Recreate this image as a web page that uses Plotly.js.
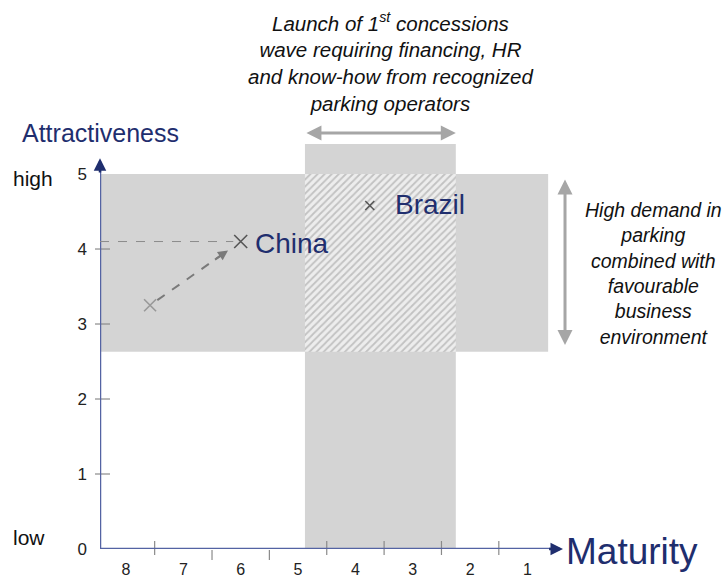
<!DOCTYPE html>
<html>
<head>
<meta charset="utf-8">
<script src="https://cdn.plot.ly/plotly-3.0.1.min.js"></script>
<style>html,body{margin:0;padding:0;background:#fff;}#chart{width:728px;height:581px;}</style>
</head>
<body>
<div id="chart"></div>
<script>
// ---- data ----
const maturityTicks = [8, 7, 6, 5, 4, 3, 2, 1];
const maturityTickText = ['8', '7', '6', '5', '4', '3', '2', '1'];
const attractTicks = [0, 1, 2, 3, 4, 5];
const attractTickText = ['0', '1', '2', '3', '4', '5'];
const countries = ['China (before)', 'China', 'Brazil'];
const maturity = [7.58, 6.0, 3.75];
const attractiveness = [3.25, 4.1, 4.58];
const labels = ['', 'China', 'Brazil'];

// zones (maturity / attractiveness units)
const concessionZone = {x0: 4.88, x1: 2.25, y0: 0, y1: 5.4};
const demandZone = {x0: 8.453, x1: 0.64, y0: 2.63, y1: 5.0};

// ---- layout constants ----
const X0 = 8.453, X1 = -0.264;
const Y0 = 0, Y1 = 5.587;
const NAVY = '#1f2e6e';
const AXIS = '#5463a3';
const GRAY = '#d4d4d4';
const AGRAY = '#a6a6a6';
const FONT = 'Liberation Sans, Arial, sans-serif';

const plotW = 500, plotH = 419;

const shapes = [];
// demand band
shapes.push({type: 'rect', xref: 'x', yref: 'y', x0: demandZone.x0, x1: demandZone.x1,
  y0: demandZone.y0, y1: demandZone.y1, fillcolor: GRAY, line: {width: 0}, layer: 'below'});
// concession band
shapes.push({type: 'rect', xref: 'x', yref: 'y', x0: concessionZone.x0, x1: concessionZone.x1,
  y0: concessionZone.y0, y1: concessionZone.y1, fillcolor: GRAY, line: {width: 0}, layer: 'below'});
// y ticks
[1, 2, 3, 4].forEach(v => shapes.push({type: 'line', xref: 'paper', yref: 'y',
  x0: -5 / plotW, x1: 10 / plotW, y0: v, y1: v, line: {color: '#8a8a8a', width: 1.2}}));
// x ticks (between labels)
const xTickMarks = [7.5, 6.5, 5.5, 4.5, 3.5, 2.5, 1.5];
const xTickBelow = [false, true, true, false, false, false, false];
xTickMarks.forEach((v, i) => {
  const lo = xTickBelow[i] ? -11 : -6, hi = xTickBelow[i] ? -1 : 8;
  shapes.push({type: 'line', xref: 'x', yref: 'paper', x0: v, x1: v,
    y0: lo / plotH, y1: hi / plotH, line: {color: '#8a8a8a', width: 1.2}});
});
// axes lines
shapes.push({type: 'line', xref: 'x', yref: 'y', x0: X0, x1: X0, y0: 0, y1: 5.1,
  line: {color: AXIS, width: 2.5}});
shapes.push({type: 'line', xref: 'x', yref: 'y', x0: X0, x1: 0.5, y0: 0, y1: 0,
  line: {color: AXIS, width: 2.5}});
// dashed guide from y axis to China
shapes.push({type: 'line', xref: 'x', yref: 'y', x0: X0, x1: maturity[1] + 0.13,
  y0: attractiveness[1], y1: attractiveness[1], line: {color: '#8c8c8c', width: 1, dash: 'dash'}});
// dashed move arrow China before -> China
const px = t => maturity[0] + t * (maturity[1] - maturity[0]);
const py = t => attractiveness[0] + t * (attractiveness[1] - attractiveness[0]);
shapes.push({type: 'line', xref: 'x', yref: 'y', x0: px(0.08), y0: py(0.08), x1: px(0.8), y1: py(0.8),
  line: {color: '#7a7a7a', width: 2, dash: 'dash'}});

const traces = [
  { // hatched overlap
    type: 'scatter', mode: 'lines', hoverinfo: 'skip', showlegend: false,
    x: [concessionZone.x0, concessionZone.x1, concessionZone.x1, concessionZone.x0, concessionZone.x0],
    y: [demandZone.y0, demandZone.y0, demandZone.y1, demandZone.y1, demandZone.y0],
    fill: 'toself', line: {width: 0}, fillcolor: '#ebebeb',
    fillpattern: {shape: '/', bgcolor: '#ededed', fgcolor: '#c2c2c2', size: 5, solidity: 0.35}
  },
  {
    type: 'scatter', mode: 'markers', showlegend: false,
    x: maturity, y: attractiveness, text: countries,
    marker: {symbol: 'x-thin', size: [12, 13, 9],
      color: ['#808080', '#222', '#222'],
      line: {width: 1.6, color: ['#808080', '#222', '#222']}}
  }
];

const annotations = [
  // axis arrowheads
  {x: X0, y: 5.21, ax: X0, ay: 5.0, xref: 'x', yref: 'y', axref: 'x', ayref: 'y', text: '',
    showarrow: true, arrowhead: 2, arrowsize: 1, arrowwidth: 2.5, arrowcolor: NAVY},
  {x: 0.381, y: 0, ax: 0.65, ay: 0, xref: 'x', yref: 'y', axref: 'x', ayref: 'y', text: '',
    showarrow: true, arrowhead: 2, arrowsize: 1, arrowwidth: 2.5, arrowcolor: NAVY},
  // move arrowhead
  {x: px(0.86), y: py(0.86), ax: px(0.7), ay: py(0.7), xref: 'x', yref: 'y', axref: 'x', ayref: 'y',
    text: '', showarrow: true, arrowhead: 2, arrowsize: 1, arrowwidth: 2, arrowcolor: '#7a7a7a'},
  // top double arrow
  {x: concessionZone.x1, y: 5.547, ax: concessionZone.x0, ay: 5.547, xref: 'x', yref: 'y', axref: 'x', ayref: 'y',
    text: '', showarrow: true, arrowhead: 2, startarrowhead: 2, arrowside: 'end+start',
    arrowsize: 1, startarrowsize: 1, arrowwidth: 3, arrowcolor: AGRAY},
  // right double arrow
  {x: 0.346, y: 2.72, ax: 0.346, ay: 4.947, xref: 'x', yref: 'y', axref: 'x', ayref: 'y',
    text: '', showarrow: true, arrowhead: 2, startarrowhead: 2, arrowside: 'end+start',
    arrowsize: 1, startarrowsize: 1, arrowwidth: 3, arrowcolor: AGRAY},
  // point labels
  {x: maturity[1], y: attractiveness[1], xref: 'x', yref: 'y', text: labels[1], showarrow: false,
    xanchor: 'left', yanchor: 'middle', xshift: 12, yshift: -2,
    font: {family: FONT, size: 28, color: NAVY}},
  {x: maturity[2], y: attractiveness[2], xref: 'x', yref: 'y', text: labels[2], showarrow: false,
    xanchor: 'left', yanchor: 'middle', xshift: 23, yshift: 1,
    font: {family: FONT, size: 28, color: NAVY}},
  // axis titles
  {x: 0, y: (549 - 133) / plotH, xref: 'paper', yref: 'paper', text: 'Attractiveness', showarrow: false,
    xanchor: 'center', yanchor: 'middle',
    font: {family: FONT, size: 25, color: NAVY}},
  {x: (564 - 100) / plotW, y: 0, xref: 'paper', yref: 'paper', text: 'Maturity', showarrow: false,
    xanchor: 'left', yanchor: 'middle', yshift: -2,
    font: {family: FONT, size: 37, color: NAVY}},
  // high / low
  {x: (33 - 100) / plotW, y: (549 - 178) / plotH, xref: 'paper', yref: 'paper', text: 'high', showarrow: false,
    xanchor: 'center', yanchor: 'middle', font: {family: FONT, size: 21, color: '#111'}},
  {x: (29 - 100) / plotW, y: (549 - 537) / plotH, xref: 'paper', yref: 'paper', text: 'low', showarrow: false,
    xanchor: 'center', yanchor: 'middle', font: {family: FONT, size: 21, color: '#111'}},
  // explanatory texts
  {x: (390 - 100) / plotW, y: (549 - 62) / plotH, xref: 'paper', yref: 'paper', showarrow: false,
    xanchor: 'center', yanchor: 'middle', align: 'center',
    text: '<i>Launch of 1<sup>st</sup> concessions<br>wave requiring financing, HR<br>and know-how from recognized<br>parking operators</i>',
    font: {family: FONT, size: 20.5, color: '#111'}},
  {x: (653 - 100) / plotW, y: (549 - 273) / plotH, xref: 'paper', yref: 'paper', showarrow: false,
    xanchor: 'center', yanchor: 'middle', align: 'center',
    text: '<i>High demand in<br>parking<br>combined with<br>favourable<br>business<br>environment</i>',
    font: {family: FONT, size: 19.5, color: '#111'}}
];

const layout = {
  width: 728, height: 581,
  margin: {l: 100, r: 128, t: 130, b: 32},
  paper_bgcolor: '#ffffff', plot_bgcolor: 'rgba(0,0,0,0)',
  showlegend: false,
  xaxis: {range: [X0, X1], showgrid: false, zeroline: false, showline: false, ticks: '',
    tickvals: maturityTicks, ticktext: maturityTickText, ticklabelstandoff: 9,
    tickfont: {family: FONT, size: 16, color: '#222'}, fixedrange: true},
  yaxis: {range: [Y0, Y1], showgrid: false, zeroline: false, showline: false, ticks: '',
    tickvals: attractTicks, ticktext: attractTickText, ticklabelstandoff: 12,
    tickfont: {family: FONT, size: 17, color: '#222'}, fixedrange: true},
  shapes: shapes,
  annotations: annotations
};

Plotly.newPlot('chart', traces, layout, {displayModeBar: false, staticPlot: true});
</script>
</body>
</html>
